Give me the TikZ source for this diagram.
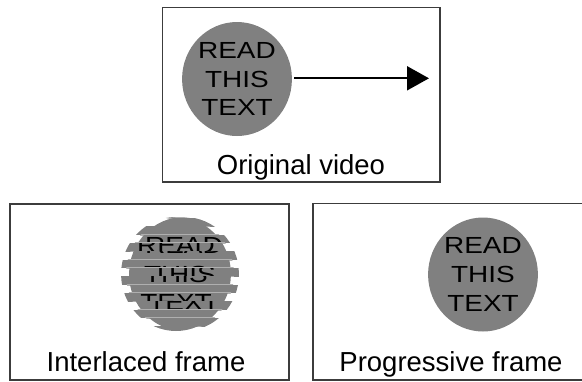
\documentclass[tikz,border=0pt]{standalone}
\usepackage{fontspec}
\setmainfont{Liberation Sans}
\newfontfamily\circfont[FakeStretch=1.2]{Liberation Sans}
\usetikzlibrary{shapes.geometric,arrows.meta}
\definecolor{discgray}{RGB}{128,128,128}
\definecolor{gapgray}{RGB}{175,175,175}
\definecolor{framegray}{RGB}{60,60,60}
\begin{document}
\begin{tikzpicture}[x=1pt,y=-1pt,
  frame/.style={draw=framegray,line width=1.3pt,inner sep=0pt},
  disc/.style={ellipse,fill=discgray,inner sep=0pt,minimum width=108pt,minimum height=114pt,
    align=center,font=\circfont\fontsize{23.3}{28.7}\selectfont},
  gapdisc/.style={ellipse,fill=gapgray,inner sep=0pt,minimum width=108pt,minimum height=114pt},
  label/.style={anchor=base,font=\fontsize{27.5}{33}\selectfont,inner sep=0pt}]
\useasboundingbox (0,0) rectangle (582,381);
% frames
\node[frame,minimum width=277.5pt,minimum height=174.5pt] (topf) at (301.25,94.75) {};
\node[frame,minimum width=279pt,minimum height=176pt] (leftf) at (149.5,292) {};
\node[frame,minimum width=276pt,minimum height=176.5pt] (rightf) at (451,291.75) {};
% original video
\node[disc] (orig) at (237,79) {READ\\THIS\\TEXT};
\coordinate (tip) at (429,78.3);
\draw[line width=2pt,-{Triangle[length=22pt,width=24pt]}] (orig.east) ++(2,-0.7) coordinate (tail) -- (tip);
\node[label] (lorig) at (301,174.3) {Original video};
% interlaced frame
\foreach \k in {0,...,14} {
  \pgfmathsetmacro\ya{210.3+8.333*\k}
  \pgfmathsetmacro\dx{ifthenelse(mod(\k,2)==0,-4,4)}
  \begin{scope}
    \clip (100,\ya) rectangle (260,\ya+7.5);
    \node[disc] (il\k) at (180+\dx,274) {READ\\THIS\\TEXT};
  \end{scope}
  \begin{scope}
    \clip (100,\ya+7.5) rectangle (260,\ya+8.333);
    \node[gapdisc] (gap\k) at (180,274) {};
  \end{scope}
}
\node[label] (linter) at (146,371.7) {Interlaced frame};
% progressive frame
\node[disc] (prog) at (483,274.5) {READ\\THIS\\TEXT};
\node[label] (lprog) at (451,371.2) {Progressive frame};
\end{tikzpicture}
\end{document}
